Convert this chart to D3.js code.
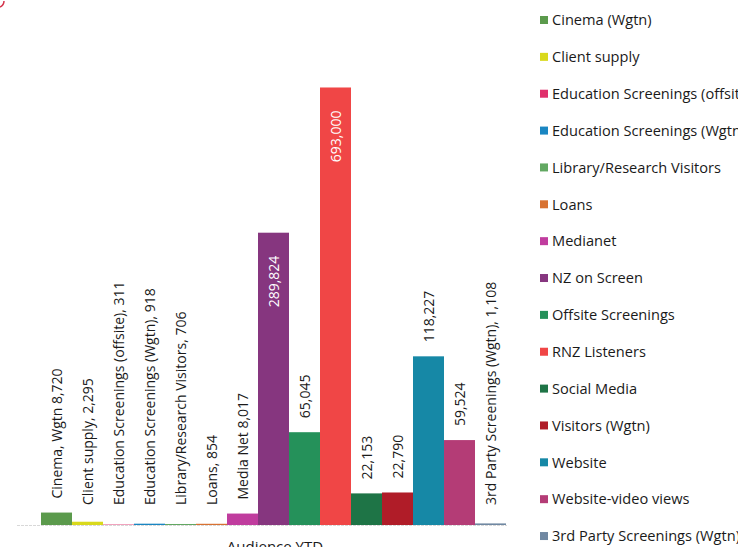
<!DOCTYPE html>
<html>
<head>
<meta charset="utf-8">
<script src="https://cdn.jsdelivr.net/npm/d3@7/dist/d3.min.js"></script>
<style>
  html, body { margin: 0; padding: 0; background: #fff; overflow: hidden; }
  svg { display: block; font-family: "Open Sans", "DejaVu Sans", sans-serif; }
</style>
</head>
<body>
<svg id="chart" width="738" height="547"></svg>
<script>
const categories = [
  "Cinema (Wgtn)", "Client supply", "Education Screenings (offsite)",
  "Education Screenings (Wgtn)", "Library/Research Visitors", "Loans",
  "Medianet", "NZ on Screen", "Offsite Screenings", "RNZ Listeners",
  "Social Media", "Visitors (Wgtn)", "Website", "Website-video views",
  "3rd Party Screenings (Wgtn)"
];
const values = [8720, 2295, 311, 918, 706, 854, 8017, 289824, 65045, 693000, 22153, 22790, 118227, 59524, 1108];
const barLabels = [
  "Cinema, Wgtn 8,720", "Client supply, 2,295", "Education Screenings (offsite), 311",
  "Education Screenings (Wgtn), 918", "Library/Research Visitors, 706", "Loans, 854",
  "Media Net 8,017", "289,824", "65,045", "693,000", "22,153", "22,790",
  "118,227", "59,524", "3rd Party Screenings (Wgtn), 1,108"
];
const colors = [
  "#5b9a4c", "#d9d91c", "#e0306c", "#1a86c2", "#62a862", "#d87232",
  "#c03c9e", "#86367f", "#25915a", "#f04646", "#1e7446", "#b01c28",
  "#1688a6", "#b43c76", "#7088a2"
];
// value axis breakpoints (the original chart compresses the tallest bars)
const yBreaks = [0, 150000, 300000, 700000];
const xAxisTitle = "Audience YTD";

const svg = d3.select("#chart");
const baseY = 525;

const x = d3.scaleBand().domain(categories).range([41, 506]).padding(0);
const y = d3.scaleLinear().domain(yBreaks).range([baseY, baseY - 214, baseY - 298, baseY - 440]);
const color = d3.scaleOrdinal().domain(categories).range(colors);

const data = categories.map((c, i) => ({ cat: c, value: values[i], label: barLabels[i] }));

// baseline axis (no ticks)
const axis = d3.axisBottom(x).tickSize(0).tickFormat("");
const axG = svg.append("g").attr("transform", `translate(0,${baseY + 0.5})`).call(axis);
axG.select(".domain").remove();
axG.append("line").attr("x1", 17).attr("x2", 507).attr("y1", 0).attr("y2", 0)
  .attr("stroke", "#d8d8d8").attr("stroke-width", 1).attr("stroke-dasharray", "3,1");

// bars
svg.append("g").selectAll("rect").data(data).join("rect")
  .attr("x", d => x(d.cat))
  .attr("y", d => y(d.value))
  .attr("width", x.bandwidth())
  .attr("height", d => baseY - y(d.value))
  .attr("fill", d => color(d.cat));

// labels
svg.append("g").selectAll("text").data(data).join("text")
  .attr("transform", d => {
    const cx = x(d.cat) + x.bandwidth() / 2;
    const inside = d.value > 200000;
    const yy = inside ? y(d.value) + 23 : Math.min(y(d.value) - 14, 505);
    return `translate(${cx},${yy}) rotate(-90)`;
  })
  .attr("text-anchor", d => d.value > 200000 ? "end" : "start")
  .attr("dy", "0.36em")
  .attr("font-size", 14)
  .attr("fill", d => d.value > 200000 ? "#ffffff" : "#1a1a1a")
  .text(d => d.label);

// axis title
svg.append("text").attr("x", 275).attr("y", 552)
  .attr("text-anchor", "middle").attr("font-size", 15).attr("fill", "#1a1a1a")
  .text(xAxisTitle);

// legend
const leg = svg.append("g").selectAll("g").data(categories).join("g")
  .attr("transform", (d, i) => `translate(540,${20 + i * 36.86})`);
leg.append("rect").attr("x", 0).attr("y", -4).attr("width", 8).attr("height", 8)
  .attr("fill", d => color(d));
leg.append("text").attr("x", 12).attr("dy", "0.36em").attr("font-size", 14.6)
  .attr("fill", "#1a1a1a").text(d => d);

// small red mark in the top-left corner of the scan
svg.append("path").attr("d", "M0,7 Q4,5 4,1").attr("fill", "none")
  .attr("stroke", "#d4324a").attr("stroke-width", 1.5);
</script>
</body>
</html>
